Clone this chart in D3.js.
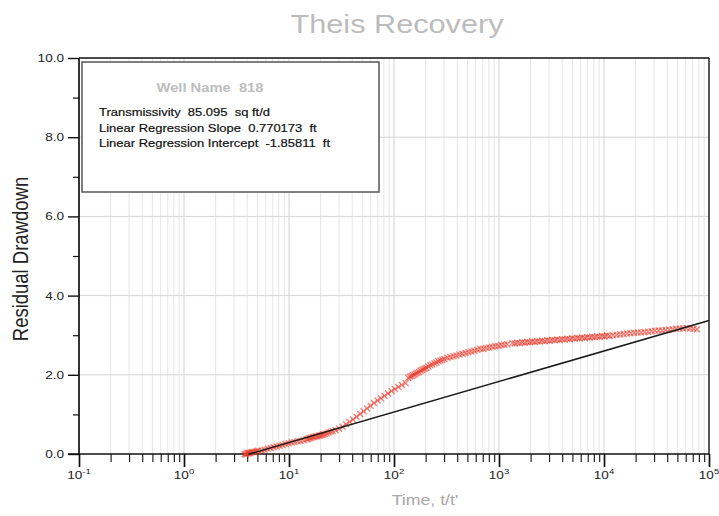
<!DOCTYPE html>
<html>
<head>
<meta charset="utf-8">
<script src="https://cdn.jsdelivr.net/npm/d3@7"></script>
<style>
  html, body { margin: 0; padding: 0; background: #fff; }
  svg { display: block; font-family: "Liberation Sans", Arial, Helvetica, sans-serif; }
  text { white-space: pre; }
</style>
</head>
<body>
<svg id="chart" width="719" height="516"></svg>
<script>
// Recovery record: time ratio t/t' and residual drawdown (ft)
const timeRatio = [
  3.79, 3.87, 3.96, 4.05, 4.13, 4.23, 4.32, 4.46, 4.61, 4.77, 4.93, 5.09,
  5.50, 5.87, 6.27, 6.69, 7.15, 7.63, 8.15, 8.70, 9.29, 9.93, 10.6, 11.3, 12.1, 12.9, 13.8,
  14.7, 15.2, 15.7, 16.2, 16.8, 17.3, 17.9, 18.5, 19.2, 19.8, 20.5, 21.1, 21.8, 22.8, 23.8, 24.9, 26.0,
  27.8, 30.0, 32.4, 35.0, 37.7, 40.7, 44.0, 47.5, 51.3, 55.4, 59.8, 64.5, 69.7, 75.2, 81.2, 87.7, 94.6, 102, 110, 119, 129,
  137, 142, 147, 152, 157, 162, 167, 173, 179, 185, 191, 197, 204, 213, 222, 232, 243, 254, 265, 277, 289, 302,
  323, 344, 368, 393, 420, 448, 479, 511, 546, 583, 622, 664, 710, 757, 809, 864, 923, 985, 1052, 1124, 1200,
  1339, 1414, 1494, 1578, 1667, 1760, 1859, 1964, 2074, 2191, 2314, 2444, 2581, 2726, 2879, 3041, 3213, 3394, 3584, 3786,
  3999, 4224, 4462, 4713, 4978, 5258, 5554, 5866, 6196, 6546, 6915, 7304, 7715, 8149, 8607, 9092, 9603, 10140, 10710, 11320,
  12220, 13190, 14240, 15380, 16600, 17920, 19350, 20890, 22550, 24350, 26290, 28380, 30640,
  33080, 35720, 38560, 41640, 44950, 48530, 52390, 56570, 61070, 65930, 71180, 76850
];
const residualDrawdown = [
  0.00, -0.01, 0.02, 0.01, 0.03, 0.02, 0.04, 0.05, 0.05, 0.06, 0.07, 0.08,
  0.09, 0.11, 0.13, 0.15, 0.17, 0.19, 0.21, 0.23, 0.25, 0.27, 0.29, 0.30, 0.32, 0.33, 0.35,
  0.37, 0.38, 0.40, 0.41, 0.42, 0.43, 0.44, 0.45, 0.46, 0.47, 0.48, 0.49, 0.50, 0.52, 0.54, 0.56, 0.58,
  0.60, 0.64, 0.69, 0.75, 0.81, 0.87, 0.94, 1.01, 1.08, 1.15, 1.22, 1.29, 1.35, 1.41, 1.47, 1.53, 1.59, 1.64, 1.69, 1.74, 1.79,
  1.92, 1.95, 1.97, 1.99, 2.01, 2.03, 2.05, 2.07, 2.10, 2.12, 2.14, 2.16, 2.18, 2.21, 2.24, 2.26, 2.29, 2.31, 2.34, 2.36, 2.38, 2.40,
  2.43, 2.45, 2.47, 2.49, 2.51, 2.53, 2.55, 2.57, 2.59, 2.61, 2.63, 2.65, 2.66, 2.68, 2.69, 2.71, 2.72, 2.73, 2.75, 2.76, 2.77,
  2.80, 2.79, 2.81, 2.80, 2.82, 2.81, 2.83, 2.82, 2.84, 2.83, 2.85, 2.84, 2.86, 2.85, 2.87, 2.86, 2.88, 2.87, 2.89, 2.88,
  2.90, 2.89, 2.91, 2.90, 2.92, 2.91, 2.93, 2.92, 2.94, 2.93, 2.95, 2.94, 2.96, 2.95, 2.97, 2.96, 2.98, 2.97, 2.99, 2.98,
  3.00, 3.01, 3.02, 3.03, 3.04, 3.05, 3.06, 3.07, 3.07, 3.08, 3.09, 3.10, 3.11,
  3.12, 3.12, 3.13, 3.14, 3.15, 3.16, 3.17, 3.17, 3.18, 3.17, 3.16, 3.15
];

// Straight-line fit: slope per log cycle and the t/t' where it reaches zero drawdown
const regressionSlope = 0.770173;
const regressionZeroAt = 4.2;
const regressionSpan = [4.1, 100000];

// Axes
const yTicks = [0, 2, 4, 6, 8, 10];
const yMinorTicks = [1, 3, 5, 7, 9];
const yGrid = [2, 4, 6, 8];
const decades = [0.1, 1, 10, 100, 1000, 10000, 100000];
const decadeExponents = ["-1", "0", "1", "2", "3", "4", "5"];

// Text
const chartTitle = "Theis Recovery";
const xTitle = "Time, t/t'";
const yTitle = "Residual Drawdown";
const wellName = "Well Name  818";
const statLines = [
  "Transmissivity  85.095  sq ft/d",
  "Linear Regression Slope  0.770173  ft",
  "Linear Regression Intercept  -1.85811  ft"
];

const plot = { left: 79, right: 709, top: 58, bottom: 454 };
const SX = 1.18; // horizontal text stretch

const x = d3.scaleLog().domain([0.1, 100000]).range([plot.left, plot.right]);
const y = d3.scaleLinear().domain([0, 10]).range([plot.bottom, plot.top]);

const svg = d3.select("#chart");

// log-cycle positions (1..9 in each decade)
const logTicks = [];
decades.slice(0, -1).forEach(d => { for (let k = 1; k < 10; k++) logTicks.push(d * k); });
logTicks.push(100000);
const isDecade = v => decades.some(d => Math.abs(v - d) / d < 1e-9);

// grid
svg.append("g")
  .selectAll("line")
  .data(logTicks.filter(v => v > 0.1 && v < 100000))
  .join("line")
  .attr("x1", d => x(d)).attr("x2", d => x(d))
  .attr("y1", plot.top).attr("y2", plot.bottom)
  .attr("stroke", d => isDecade(d) ? "#cdcdcd" : "#e3e3e3")
  .attr("stroke-width", 0.9);

svg.append("g")
  .selectAll("line")
  .data(yGrid)
  .join("line")
  .attr("x1", plot.left).attr("x2", plot.right)
  .attr("y1", d => y(d)).attr("y2", d => y(d))
  .attr("stroke", "#d6d6d6")
  .attr("stroke-width", 1);

// x axis ticks
const gx = svg.append("g")
  .attr("transform", `translate(0,${plot.bottom})`)
  .call(d3.axisBottom(x).tickValues(logTicks).tickSize(8).tickFormat(""));
gx.select(".domain").remove();
gx.selectAll(".tick line")
  .attr("stroke", "#111")
  .attr("stroke-width", d => isDecade(d) ? 1.7 : 1.1)
  .attr("y2", d => isDecade(d) ? 13 : 8);

// y axis ticks
const gy = svg.append("g")
  .attr("transform", `translate(${plot.left},0)`)
  .call(d3.axisLeft(y).tickValues(yTicks).tickSize(11).tickFormat(""));
gy.select(".domain").remove();
gy.selectAll(".tick line").attr("stroke", "#111").attr("stroke-width", 1.4);

const gyMinor = svg.append("g")
  .attr("transform", `translate(${plot.left},0)`)
  .call(d3.axisLeft(y).tickValues(yMinorTicks).tickSize(6).tickFormat(""));
gyMinor.select(".domain").remove();
gyMinor.selectAll(".tick line").attr("stroke", "#111").attr("stroke-width", 1.2);

// frame
const frame = svg.append("g").attr("stroke", "#111").attr("fill", "none");
frame.append("line").attr("x1", plot.left - 11).attr("x2", plot.right)
  .attr("y1", plot.bottom).attr("y2", plot.bottom).attr("stroke-width", 1.7);
frame.append("line").attr("x1", plot.left).attr("x2", plot.left)
  .attr("y1", plot.top).attr("y2", plot.bottom).attr("stroke-width", 1.7);
frame.append("line").attr("x1", plot.left).attr("x2", plot.right)
  .attr("y1", plot.top).attr("y2", plot.top).attr("stroke-width", 1.7);
frame.append("line").attr("x1", plot.right).attr("x2", plot.right)
  .attr("y1", plot.top).attr("y2", plot.bottom).attr("stroke-width", 1.4);

// y tick labels
svg.append("g")
  .selectAll("text")
  .data(yTicks)
  .join("text")
  .attr("transform", d => `translate(64,${y(d) + 4}) scale(${SX},1)`)
  .attr("text-anchor", "end")
  .attr("font-size", 11.5)
  .attr("fill", "#222")
  .text(d => d.toFixed(1));

// x tick labels: 10 with exponent
const xl = svg.append("g")
  .selectAll("text")
  .data(decades)
  .join("text")
  .attr("transform", d => `translate(${x(d)},479) scale(${SX},1)`)
  .attr("text-anchor", "middle")
  .attr("font-size", 11.5)
  .attr("fill", "#222");
xl.append("tspan").text("10");
xl.append("tspan").attr("dy", -5).attr("font-size", 8)
  .text((d, i) => decadeExponents[i]);

// data markers
const pts = d3.zip(timeRatio, residualDrawdown);
const r = 3;
svg.append("g")
  .selectAll("path")
  .data(pts)
  .join("path")
  .attr("d", ([t, s]) => {
    const cx = x(t), cy = y(s);
    return `M${cx - r},${cy - r}L${cx + r},${cy + r}M${cx - r},${cy + r}L${cx + r},${cy - r}`;
  })
  .attr("fill", "none")
  .attr("stroke", "#e8392a")
  .attr("stroke-opacity", 0.62)
  .attr("stroke-width", 1.4);

// fitted straight line
const fit = t => regressionSlope * (Math.log10(t) - Math.log10(regressionZeroAt));
svg.append("line")
  .attr("x1", x(regressionSpan[0])).attr("y1", y(fit(regressionSpan[0])))
  .attr("x2", x(regressionSpan[1])).attr("y2", y(fit(regressionSpan[1])))
  .attr("stroke", "#1a1a1a")
  .attr("stroke-width", 1.5);

// info box
svg.append("rect")
  .attr("x", 82).attr("y", 62).attr("width", 297).attr("height", 130)
  .attr("fill", "#fff").attr("stroke", "#555").attr("stroke-width", 1.5);

svg.append("text")
  .attr("transform", `translate(210,92) scale(${SX},1)`)
  .attr("text-anchor", "middle")
  .attr("font-size", 12.5).attr("font-weight", "bold")
  .attr("fill", "#bdbdbd")
  .text(wellName);

svg.append("g")
  .selectAll("text")
  .data(statLines)
  .join("text")
  .attr("transform", (d, i) => `translate(99,${116 + i * 15.5}) scale(${SX},1)`)
  .attr("font-size", 11)
  .attr("fill", "#111")
  .attr("stroke", "#111").attr("stroke-width", 0.2)
  .text(d => d);

// titles
svg.append("text")
  .attr("transform", `translate(397,33) scale(${SX},1)`)
  .attr("text-anchor", "middle")
  .attr("font-size", 26)
  .attr("fill", "#bcbcbc")
  .text(chartTitle);

svg.append("text")
  .attr("transform", `translate(425,505) scale(${SX},1)`)
  .attr("text-anchor", "middle")
  .attr("font-size", 15)
  .attr("fill", "#a8a8a8")
  .text(xTitle);

svg.append("text")
  .attr("transform", `translate(28,259) scale(${SX},1) rotate(-90)`)
  .attr("text-anchor", "middle")
  .attr("font-size", 18.5)
  .attr("fill", "#222")
  .text(yTitle);
</script>
</body>
</html>
